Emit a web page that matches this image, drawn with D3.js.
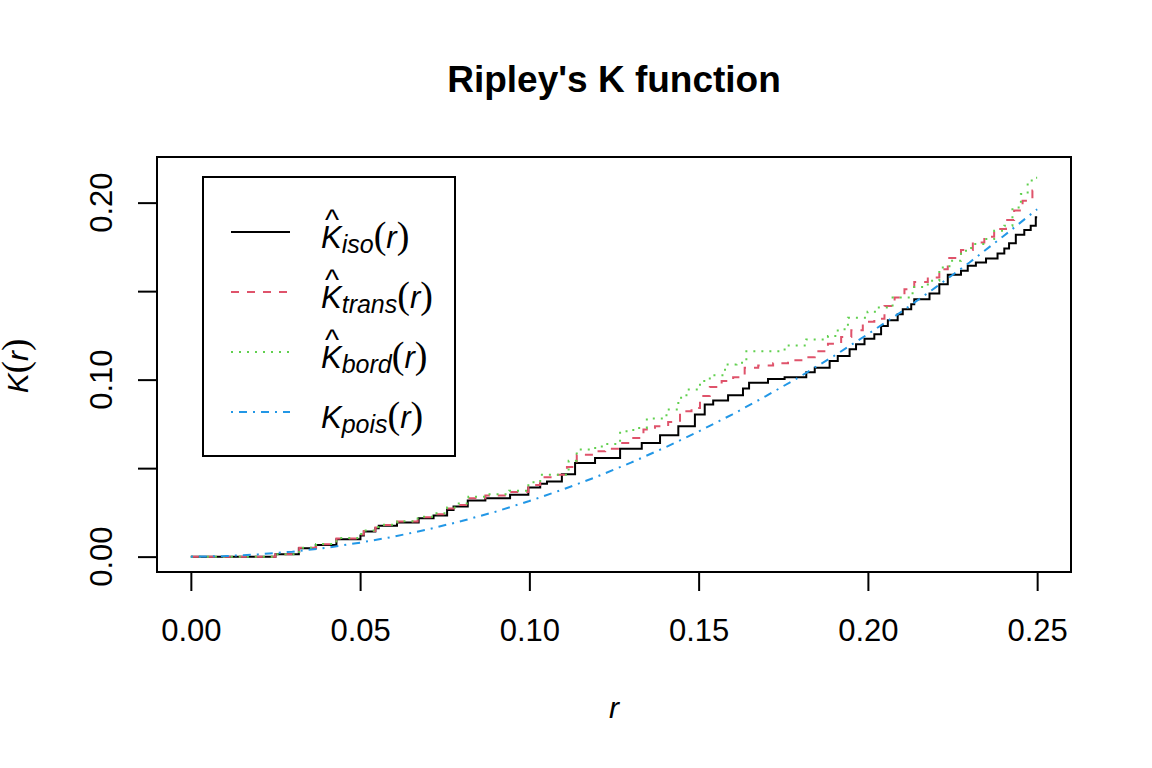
<!DOCTYPE html>
<html>
<head>
<meta charset="utf-8">
<script src="https://cdn.jsdelivr.net/npm/d3@7"></script>
<style>
  body { margin: 0; background: #fff; }
  svg { display: block; }
</style>
</head>
<body>
<svg id="chart" width="1152" height="768"></svg>
<script>
// estimated K(r) estimates
const isoR = [0, 0.025, 0.0319, 0.0369, 0.043, 0.0501, 0.0511, 0.0545, 0.0555, 0.0609, 0.0673, 0.0717, 0.0757, 0.0776, 0.0818, 0.087, 0.0943, 0.0997, 0.1032, 0.1052, 0.1096, 0.1135, 0.1194, 0.1268, 0.1332, 0.1386, 0.144, 0.1489, 0.1518, 0.1543, 0.1587, 0.1631, 0.1649, 0.1705, 0.1754, 0.1818, 0.1843, 0.1887, 0.1911, 0.1946, 0.1965, 0.199, 0.2019, 0.2039, 0.2059, 0.2088, 0.2103, 0.2128, 0.2137, 0.2182, 0.2211, 0.2236, 0.2275, 0.2295, 0.2319, 0.2349, 0.2383, 0.2403, 0.2417, 0.2437, 0.2462, 0.2481, 0.2496, 0.25];
const isoK = [0, 0.0013, 0.0047, 0.0066, 0.0098, 0.0119, 0.0142, 0.016, 0.0174, 0.0193, 0.0217, 0.0232, 0.0264, 0.0283, 0.0317, 0.033, 0.035, 0.039, 0.0412, 0.0425, 0.0466, 0.0529, 0.0557, 0.061, 0.0642, 0.0686, 0.0737, 0.0803, 0.086, 0.0882, 0.0912, 0.095, 0.0982, 0.1003, 0.1014, 0.1042, 0.1067, 0.1105, 0.1133, 0.1171, 0.12, 0.1231, 0.1256, 0.1303, 0.1335, 0.1369, 0.1398, 0.1426, 0.1454, 0.1486, 0.1539, 0.1592, 0.1615, 0.1643, 0.1662, 0.1684, 0.1713, 0.1741, 0.177, 0.1819, 0.1845, 0.187, 0.1917, 0.1917];

const transR = [0, 0.025, 0.032, 0.037, 0.043, 0.05, 0.0511, 0.0545, 0.0555, 0.061, 0.067, 0.0717, 0.0757, 0.078, 0.082, 0.087, 0.094, 0.0997, 0.1032, 0.1076, 0.1111, 0.114, 0.1189, 0.1224, 0.1268, 0.1297, 0.1337, 0.1371, 0.141, 0.1445, 0.1479, 0.1504, 0.1533, 0.1568, 0.1602, 0.1636, 0.1676, 0.172, 0.1764, 0.1808, 0.1843, 0.1882, 0.1921, 0.1951, 0.1985, 0.2019, 0.2049, 0.2079, 0.2108, 0.2137, 0.2177, 0.2211, 0.2236, 0.2275, 0.231, 0.2344, 0.2373, 0.2408, 0.2432, 0.2457, 0.2486, 0.25];
const transK = [0, 0.0013, 0.005, 0.007, 0.0102, 0.0125, 0.0145, 0.0165, 0.0178, 0.0198, 0.0222, 0.024, 0.0272, 0.0292, 0.033, 0.0345, 0.0365, 0.0405, 0.0448, 0.0463, 0.0506, 0.0576, 0.0595, 0.061, 0.0642, 0.067, 0.0718, 0.0737, 0.0761, 0.0822, 0.084, 0.0907, 0.0958, 0.0992, 0.1014, 0.1067, 0.108, 0.1093, 0.111, 0.1127, 0.1161, 0.1203, 0.1241, 0.1279, 0.1327, 0.1344, 0.1416, 0.1464, 0.1511, 0.1552, 0.1577, 0.1624, 0.1687, 0.1732, 0.1775, 0.1807, 0.1851, 0.1902, 0.1955, 0.2011, 0.2068, 0.2068];

const bordR = [0, 0.025, 0.032, 0.037, 0.043, 0.05, 0.0511, 0.0545, 0.0555, 0.061, 0.067, 0.0717, 0.0757, 0.078, 0.082, 0.087, 0.094, 0.0997, 0.1032, 0.1116, 0.114, 0.1179, 0.1214, 0.1268, 0.1307, 0.1347, 0.1405, 0.144, 0.1464, 0.1504, 0.1533, 0.1578, 0.1612, 0.1641, 0.1754, 0.1818, 0.1882, 0.1911, 0.1941, 0.1999, 0.2029, 0.2073, 0.2132, 0.2177, 0.2211, 0.2241, 0.2275, 0.2305, 0.2344, 0.2373, 0.2403, 0.2427, 0.2452, 0.2472, 0.2496, 0.25];
const bordK = [0, 0.0013, 0.005, 0.0072, 0.0105, 0.0128, 0.0148, 0.0168, 0.018, 0.02, 0.0225, 0.0245, 0.0278, 0.03, 0.0338, 0.0352, 0.0372, 0.042, 0.0463, 0.0542, 0.0605, 0.0614, 0.0636, 0.0708, 0.0727, 0.078, 0.0831, 0.0897, 0.0944, 0.0992, 0.1025, 0.1086, 0.1095, 0.1161, 0.1193, 0.1227, 0.1246, 0.1284, 0.135, 0.1384, 0.1407, 0.1464, 0.1524, 0.1558, 0.1633, 0.1671, 0.1728, 0.1766, 0.1794, 0.1841, 0.187, 0.1973, 0.2049, 0.2125, 0.214, 0.214];

const poisR = [0, 0.01, 0.02, 0.03, 0.04, 0.05, 0.06, 0.07, 0.08, 0.09, 0.10, 0.11, 0.12, 0.13, 0.14, 0.15, 0.16, 0.17, 0.18, 0.19, 0.20, 0.21, 0.22, 0.23, 0.24, 0.25];
const poisK = [0, 0.0003, 0.0013, 0.0028, 0.005, 0.0079, 0.0113, 0.0154, 0.0201, 0.0254, 0.0314, 0.038, 0.0452, 0.0531, 0.0616, 0.0707, 0.0804, 0.0908, 0.1018, 0.1134, 0.1257, 0.1385, 0.1521, 0.1662, 0.181, 0.1963];

const xTicks = [0, 0.05, 0.10, 0.15, 0.20, 0.25];
const yTicks = [0, 0.05, 0.10, 0.15, 0.20];
const yLabelTicks = [0, 0.10, 0.20];
const xLim = [0, 0.25];
const yLim = [0, 0.2171];

const seriesNames = ["iso", "trans", "bord", "pois"];
const seriesColors = ["#000000", "#DF536B", "#61D04F", "#2297E6"];
const seriesDash = [null, "8,8", "2,6", "2,6,8,6"];
const seriesHat = [true, true, true, false];

const svg = d3.select("#chart");
const plot = {left: 157, right: 1071, top: 157, bottom: 572};
const sansFont = "'Liberation Sans', Arial, sans-serif";
const serifFont = "'Liberation Serif', 'Times New Roman', serif";

// R style axis extension by 4% on each side
const padX = (xLim[1] - xLim[0]) * 0.04, padY = (yLim[1] - yLim[0]) * 0.04;
const x = d3.scaleLinear().domain([xLim[0] - padX, xLim[1] + padX]).range([plot.left, plot.right]);
const y = d3.scaleLinear().domain([yLim[0] - padY, yLim[1] + padY]).range([plot.bottom, plot.top]);

const series = [
  d3.zip(isoR, isoK),
  d3.zip(transR, transK),
  d3.zip(bordR, bordK),
  d3.zip(poisR, poisK)
];

// title
svg.append("text")
  .attr("x", (plot.left + plot.right) / 2).attr("y", 92)
  .attr("text-anchor", "middle")
  .attr("font-family", sansFont).attr("font-weight", "bold").attr("font-size", 37)
  .text("Ripley's K function");

// box
svg.append("rect")
  .attr("x", plot.left).attr("y", plot.top)
  .attr("width", plot.right - plot.left).attr("height", plot.bottom - plot.top)
  .attr("fill", "none").attr("stroke", "#000").attr("stroke-width", 2);

// x axis
const xAxis = svg.append("g")
  .attr("transform", `translate(0,${plot.bottom})`)
  .call(d3.axisBottom(x).tickValues(xTicks).tickSize(19).tickPadding(14).tickFormat(d3.format(".2f")));
xAxis.select(".domain").attr("d", `M${x(xTicks[0])},0H${x(xTicks[xTicks.length - 1])}`).attr("stroke-width", 2);
xAxis.selectAll(".tick line").attr("stroke-width", 2);
xAxis.selectAll(".tick text").attr("font-family", sansFont).attr("font-size", 31).attr("fill", "#000")
  .attr("dy", null).attr("y", 69);

// y axis
const yAxis = svg.append("g")
  .attr("transform", `translate(${plot.left},0)`)
  .call(d3.axisLeft(y).tickValues(yTicks).tickSize(19).tickFormat(""));
yAxis.select(".domain").attr("d", `M0,${y(yTicks[0])}V${y(yTicks[yTicks.length - 1])}`).attr("stroke-width", 2);
yAxis.selectAll(".tick line").attr("stroke-width", 2);
yAxis.selectAll(".tick text").remove();
svg.append("g").selectAll("text")
  .data(yLabelTicks)
  .enter().append("text")
    .attr("transform", d => `translate(112,${y(d)}) rotate(-90)`)
    .attr("text-anchor", "middle")
    .attr("font-family", sansFont).attr("font-size", 31)
    .text(d3.format(".2f"));

// axis titles
svg.append("text")
  .attr("x", (plot.left + plot.right) / 2).attr("y", 718)
  .attr("text-anchor", "middle")
  .attr("font-family", sansFont).attr("font-style", "italic").attr("font-size", 30)
  .text("r");

const yTitle = svg.append("text")
  .attr("transform", "translate(28,366) rotate(-90)")
  .attr("text-anchor", "middle")
  .attr("font-family", sansFont).attr("font-size", 30);
yTitle.append("tspan").attr("font-style", "italic").text("K");
yTitle.append("tspan").attr("font-family", serifFont).attr("font-size", 37).text("(");
yTitle.append("tspan").attr("font-style", "italic").text("r");
yTitle.append("tspan").attr("font-family", serifFont).attr("font-size", 37).text(")");

// curves
const stepLine = d3.line().x(d => x(d[0])).y(d => y(d[1])).curve(d3.curveStepAfter);
const smoothLine = d3.line().x(d => x(d[0])).y(d => y(d[1]));

svg.append("g").selectAll("path")
  .data(series)
  .enter().append("path")
    .attr("fill", "none")
    .attr("stroke", (d, i) => seriesColors[i])
    .attr("stroke-width", 2)
    .attr("stroke-dasharray", (d, i) => seriesDash[i])
    .attr("d", (d, i) => seriesNames[i] === "pois" ? smoothLine(d) : stepLine(d));

// legend
const legend = svg.append("g");
legend.append("rect")
  .attr("x", 203).attr("y", 177).attr("width", 252).attr("height", 279)
  .attr("fill", "#fff").attr("stroke", "#000").attr("stroke-width", 2);

seriesNames.forEach((name, i) => {
  const rowY = 232 + i * 60;
  legend.append("line")
    .attr("x1", 231).attr("x2", 290).attr("y1", rowY).attr("y2", rowY)
    .attr("stroke", seriesColors[i]).attr("stroke-width", 2)
    .attr("stroke-dasharray", seriesDash[i]);

  const label = legend.append("text")
    .attr("x", 321).attr("y", rowY + 16)
    .attr("font-family", sansFont).attr("font-size", 31);
  label.append("tspan").attr("font-style", "italic").text("K");
  label.append("tspan").attr("font-style", "italic").attr("font-size", 25).attr("dy", 5).text(name);
  label.append("tspan").attr("font-family", serifFont).attr("font-size", 38).attr("dy", -5).text("(");
  label.append("tspan").attr("font-style", "italic").text("r");
  label.append("tspan").attr("font-family", serifFont).attr("font-size", 38).text(")");

  if (seriesHat[i]) {
    legend.append("text")
      .attr("x", 332).attr("y", rowY - 2)
      .attr("text-anchor", "middle")
      .attr("font-family", sansFont).attr("font-size", 30)
      .text("^");
  }
});
</script>
</body>
</html>
